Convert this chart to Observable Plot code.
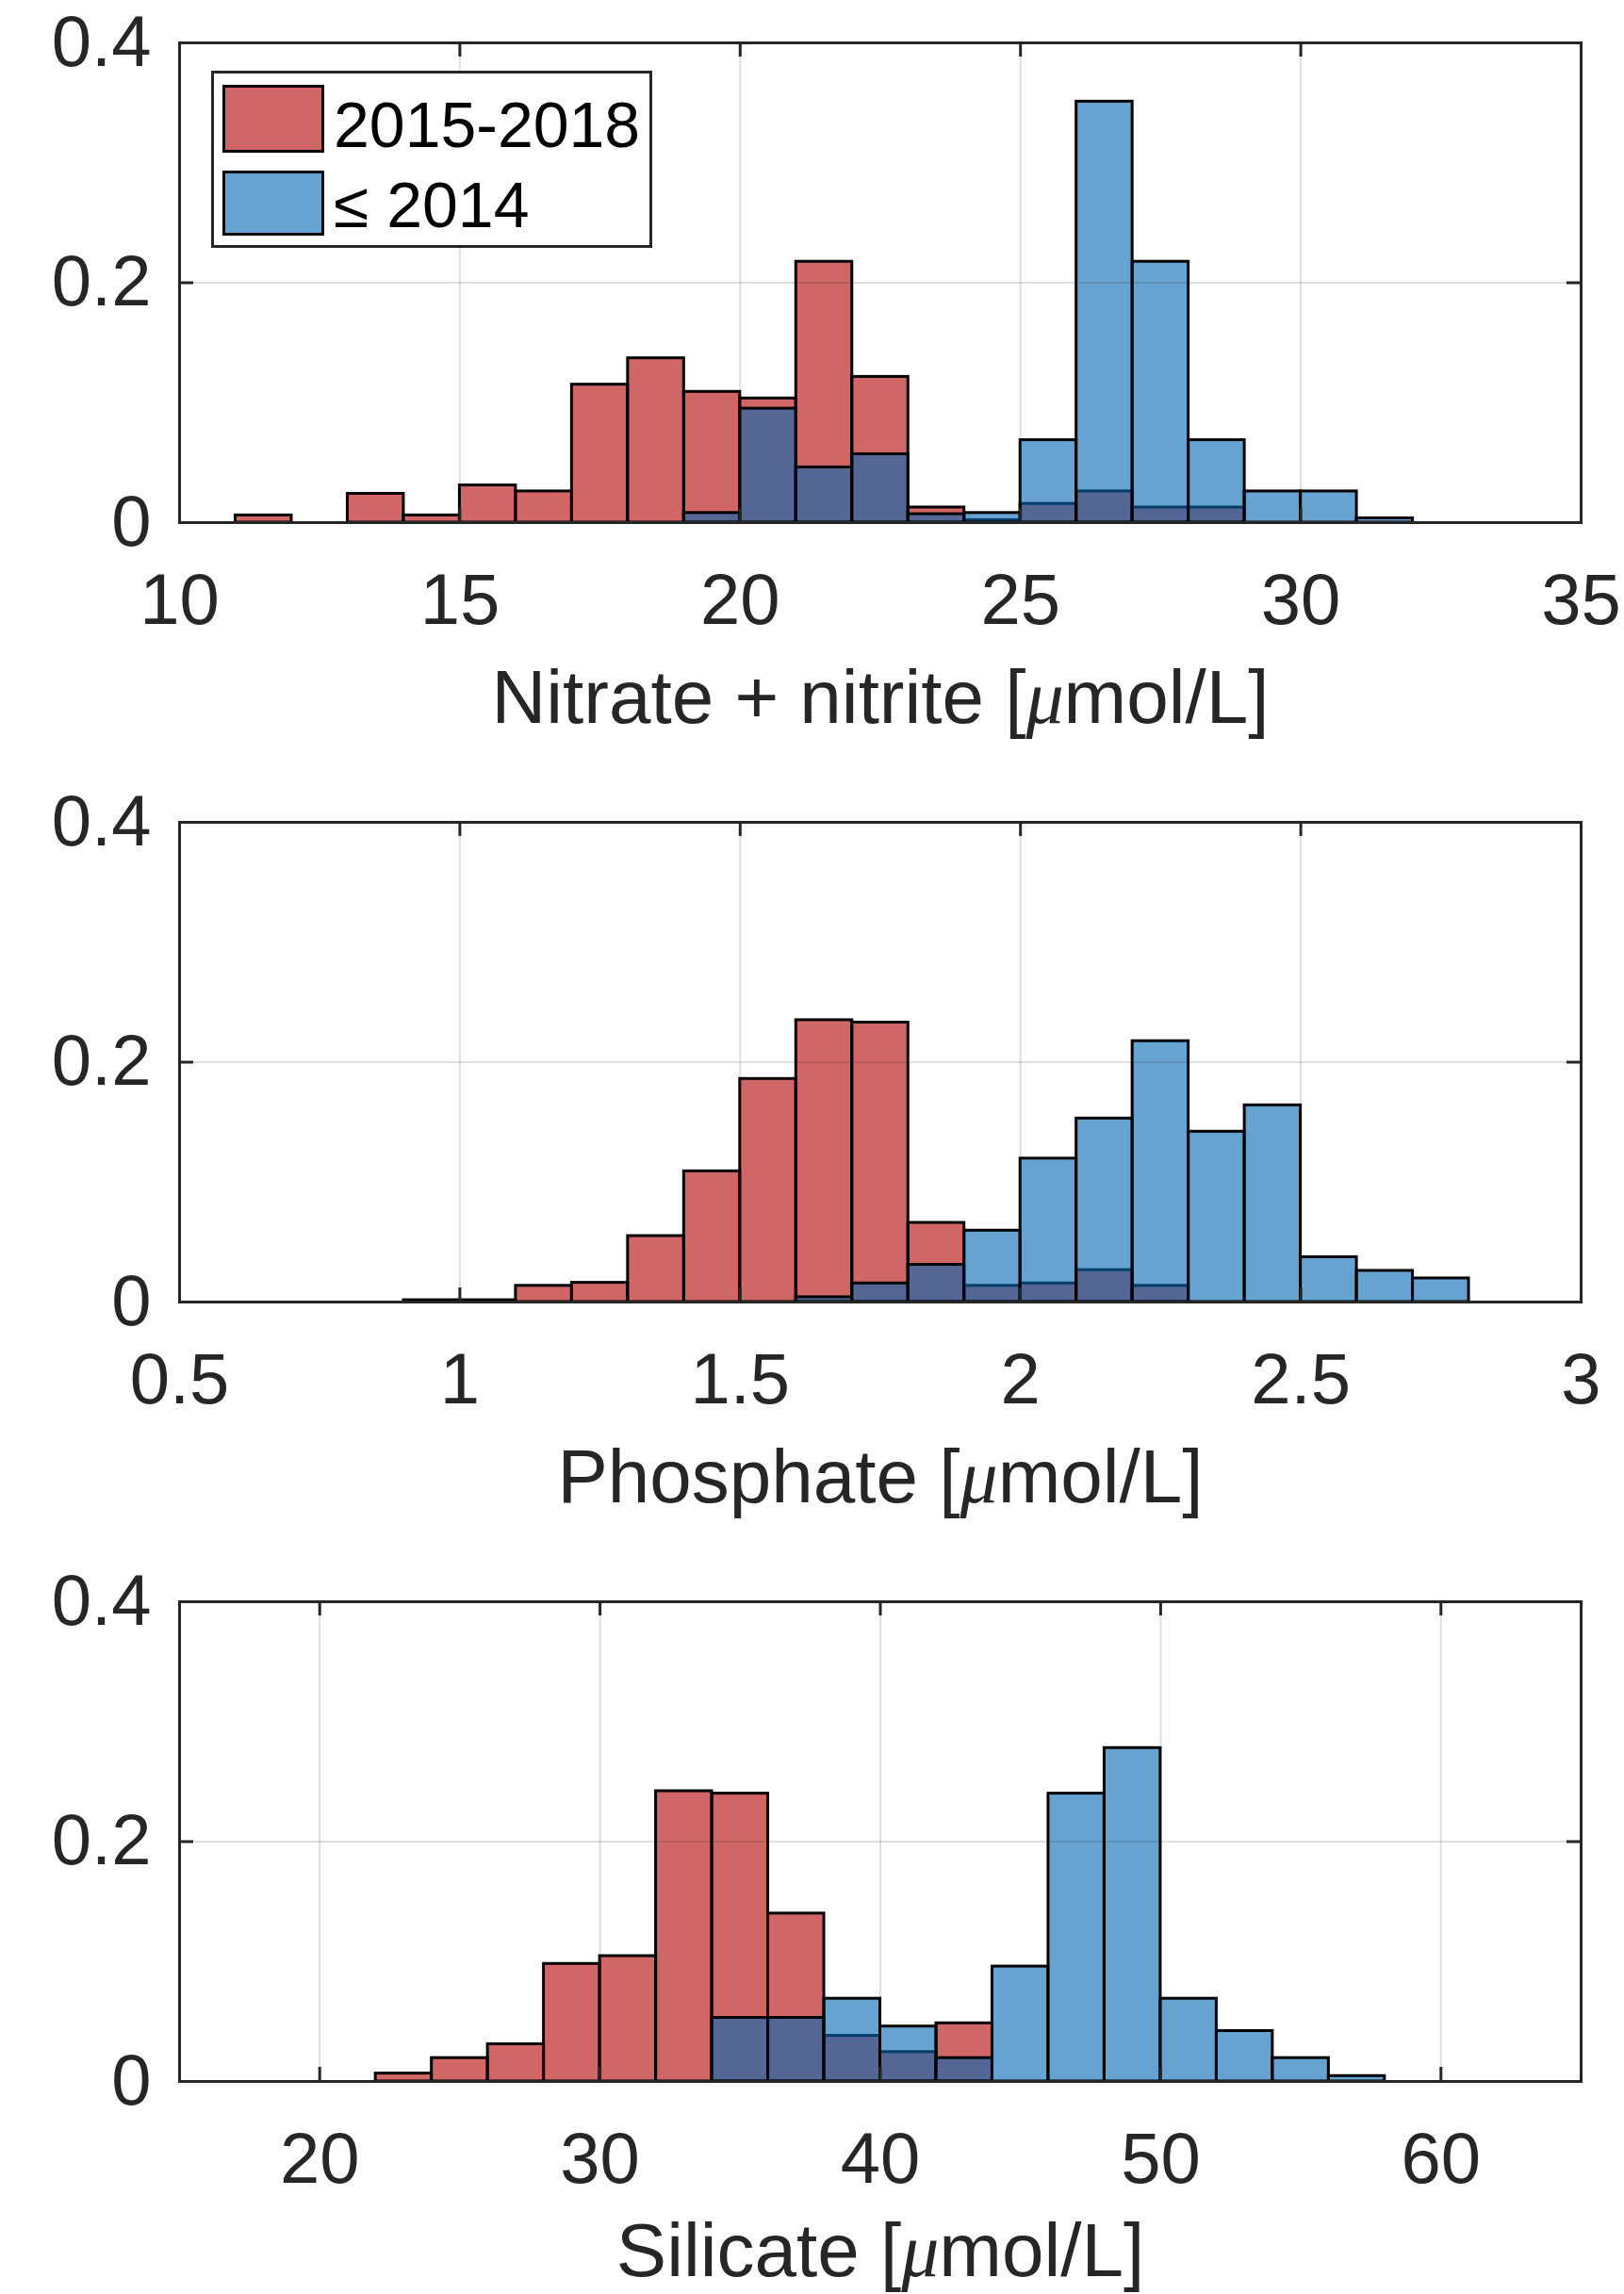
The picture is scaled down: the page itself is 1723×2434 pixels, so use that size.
<!DOCTYPE html>
<html>
<head>
<meta charset="utf-8">
<script src="https://cdn.jsdelivr.net/npm/d3@7"></script>
<script src="https://cdn.jsdelivr.net/npm/@observablehq/plot@0.6"></script>
<style>
html, body { margin: 0; padding: 0; background: #fff; }
#root { position: relative; width: 1723px; height: 2434px; overflow: hidden; font-family: "Liberation Sans", Arial, sans-serif; }
#root svg { display: block; }
.legend { position: absolute; left: 224px; top: 75px; width: 468px; height: 188px; border: 3px solid #262626; box-sizing: border-box; background: #fff; }
.sw { position: absolute; left: 236px; width: 108px; box-sizing: border-box; border: 3px solid #000; }
.lt { position: absolute; left: 354px; font-size: 68px; line-height: 68px; color: #000; white-space: nowrap; }
</style>
</head>
<body>
<div id="root"></div>
<script>
// ---------- DATA (probability per bin) ----------
const seriesNames = ["2015-2018", "\u2264 2014"];

// Nitrate + nitrite, bins of width 1
const nitrateBins = [11,12,13,14,15,16,17,18,19,20,21,22,23,24,25,26,27,28,29,30,31];
const nitrateBinWidth = 1;
const nitrateRecent = [0.006,0,0.024,0.006,0.031,0.026,0.115,0.137,0.109,0.1035,0.2175,0.1215,0.0126,0.002,0.0156,0.026,0.0126,0.0126,0,0,0];
const nitrateOld    = [0,0,0,0,0,0,0,0,0.008,0.095,0.046,0.057,0.007,0.008,0.0687,0.351,0.2175,0.0687,0.026,0.026,0.0036];
const nitrateTicks = [10,15,20,25,30,35];
const nitrateLabel = "Nitrate + nitrite [\u03bcmol/L]";

// Phosphate, bins of width 0.1
const phosphateBins = [0.9,1.0,1.1,1.2,1.3,1.4,1.5,1.6,1.7,1.8,1.9,2.0,2.1,2.2,2.3,2.4,2.5,2.6,2.7];
const phosphateBinWidth = 0.1;
const phosphateRecent = [0.0015,0.0015,0.0135,0.016,0.055,0.109,0.186,0.235,0.233,0.066,0.0135,0.0155,0.0266,0.0135,0,0,0,0,0];
const phosphateOld    = [0,0,0,0,0,0,0,0.004,0.0155,0.031,0.0595,0.1196,0.153,0.2175,0.142,0.164,0.0374,0.026,0.0197];
const phosphateTicks = [0.5,1,1.5,2,2.5,3];
const phosphateLabel = "Phosphate [\u03bcmol/L]";

// Silicate, bins of width 2
const silicateBins = [22,24,26,28,30,32,34,36,38,40,42,44,46,48,50,52,54,56];
const silicateBinWidth = 2;
const silicateRecent = [0.0066,0.0195,0.031,0.098,0.1045,0.242,0.240,0.140,0.038,0.0245,0.0485,0,0,0,0,0,0,0];
const silicateOld    = [0,0,0,0,0,0,0.053,0.053,0.069,0.0458,0.0195,0.0958,0.240,0.278,0.069,0.042,0.0195,0.0045];
const silicateTicks = [20,30,40,50,60];
const silicateDomain = [15,65];
const silicateLabel = "Silicate [\u03bcmol/L]";

const yTicks = [0, 0.2, 0.4];

// ---------- STYLE ----------
const W = 1723, ML = 190, MR = 46, MT = 45, IH = 509, IW = W - ML - MR, TICK = 15;
const AX = "#262626";

function rows(bins, width, vals) {
  return bins.map((b, i) => ({x1: b, x2: +(b + width).toFixed(6), v: vals[i]})).filter(d => d.v > 0);
}

function panel({bins, width, recent, old, domain, ticks, label, height, marginBottom, labelDy}) {
  const chart = Plot.plot({
    width: W, height,
    marginLeft: ML, marginRight: MR, marginTop: MT, marginBottom,
    style: {fontFamily: "'Liberation Sans', Arial, sans-serif", color: AX, background: "#fff", overflow: "visible"},
    x: {domain},
    y: {domain: [0, 0.4]},
    marks: [
      Plot.rect(rows(bins, width, recent), {x1: "x1", x2: "x2", y1: 0, y2: "v", fill: "rgb(178,0,0)", fillOpacity: 0.6, stroke: "#000", strokeWidth: 3}),
      Plot.rect(rows(bins, width, old), {x1: "x1", x2: "x2", y1: 0, y2: "v", fill: "rgb(0,102,178)", fillOpacity: 0.6, stroke: "#000", strokeWidth: 3}),
      Plot.gridX(ticks, {stroke: AX, strokeOpacity: 0.15, strokeWidth: 2}),
      Plot.gridY(yTicks, {stroke: AX, strokeOpacity: 0.15, strokeWidth: 2}),
      Plot.tickX(ticks, {x: d => d, insetBottom: IH - TICK, stroke: AX, strokeWidth: 3}),
      Plot.tickX(ticks, {x: d => d, insetTop: IH - TICK, stroke: AX, strokeWidth: 3}),
      Plot.tickY(yTicks, {y: d => d, insetRight: IW - TICK, stroke: AX, strokeWidth: 3}),
      Plot.tickY(yTicks, {y: d => d, insetLeft: IW - TICK, stroke: AX, strokeWidth: 3}),
      Plot.frame({stroke: AX, strokeWidth: 3}),
      Plot.axisX(ticks, {tickSize: 0, tickPadding: 54, fontSize: 76, tickFormat: d => String(d), label: null}),
      Plot.axisY(yTicks, {tickSize: 0, tickPadding: 30, fontSize: 76, tickFormat: d => String(d), label: null}),
      Plot.text([label], {text: d => d, frameAnchor: "bottom", lineAnchor: "top", dy: labelDy, fontSize: 80, fill: AX})
    ]
  });
  chart.querySelectorAll("text").forEach(t => {
    if (t.textContent.includes("\u03bc") && t.children.length === 0) {
      const s = t.textContent;
      const i = s.indexOf("\u03bc");
      t.textContent = "";
      const ns = "http://www.w3.org/2000/svg";
      const a = document.createElementNS(ns, "tspan"); a.textContent = s.slice(0, i);
      const m = document.createElementNS(ns, "tspan"); m.textContent = "\u03bc";
      m.setAttribute("font-style", "italic"); m.setAttribute("font-family", "'Liberation Serif', serif");
      const b = document.createElementNS(ns, "tspan"); b.textContent = s.slice(i + 1);
      t.append(a, m, b);
    }
  });
  return chart;
}

const root = document.getElementById("root");
root.append(
  panel({bins: nitrateBins, width: nitrateBinWidth, recent: nitrateRecent, old: nitrateOld, domain: [10, 35], ticks: nitrateTicks, label: nitrateLabel, height: 827, marginBottom: 273, labelDy: 156}),
  panel({bins: phosphateBins, width: phosphateBinWidth, recent: phosphateRecent, old: phosphateOld, domain: [0.5, 3], ticks: phosphateTicks, label: phosphateLabel, height: 827, marginBottom: 273, labelDy: 156}),
  panel({bins: silicateBins, width: silicateBinWidth, recent: silicateRecent, old: silicateOld, domain: silicateDomain, ticks: silicateTicks, label: silicateLabel, height: 780, marginBottom: 226, labelDy: 150})
);

// Legend (inside top panel)
const lg = document.createElement("div");
lg.innerHTML = `
  <div class="legend"></div>
  <div class="sw" style="top:90px;height:72px;background:rgba(178,0,0,0.6)"></div>
  <div class="sw" style="top:181px;height:69px;background:rgba(0,102,178,0.6)"></div>
  <div class="lt" style="top:98px">${seriesNames[0]}</div>
  <div class="lt" style="top:183px">${seriesNames[1]}</div>`;
root.append(lg);
</script>
</body>
</html>
